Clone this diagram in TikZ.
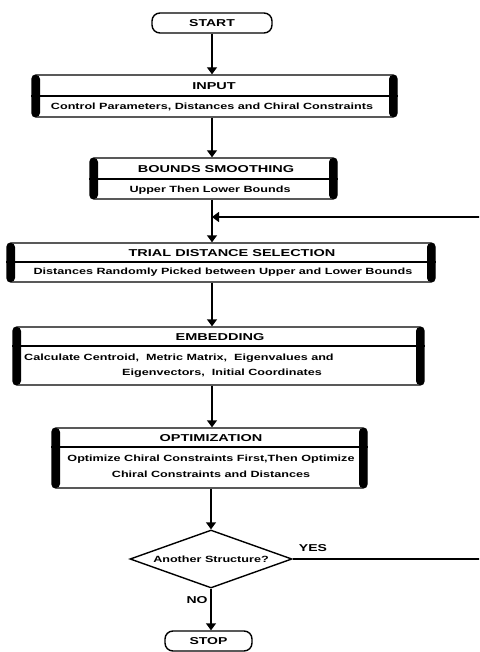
\documentclass[tikz,border=0pt]{standalone}
\usepackage{fontspec}
\usepackage{graphicx}
\setmainfont{Liberation Sans}
\usetikzlibrary{arrows.meta,shapes.geometric,calc}
\newcommand\ttlw[1]{\scalebox{1.45}[1]{#1}}
\newcommand\subw[1]{\scalebox{1.4}[1]{#1}}
\tikzset{
  x=1pt,y=-1pt,
  conn/.style={line width=1.4pt},
  arr/.style={line width=1.4pt,-{Triangle[width=10pt,length=7pt]}},
  pbox/.style={draw,line width=1.4pt,rounded corners=4pt,inner sep=0pt,
    path picture={
      \fill[black] (path picture bounding box.north west) rectangle ([xshift=8pt]path picture bounding box.south west);
      \fill[black] (path picture bounding box.north east) rectangle ([xshift=-8pt]path picture bounding box.south east);}},
  term/.style={draw,line width=1.4pt,rounded corners=8pt,inner sep=0pt,
    font=\bfseries\fontsize{10}{11}\selectfont},
  ttl/.style={inner sep=0pt,font=\bfseries\fontsize{10}{11}\selectfont},
  sub/.style={inner sep=0pt,font=\bfseries\fontsize{9}{10}\selectfont},
  dec/.style={draw,diamond,line width=1.4pt,aspect=2.8,inner sep=0pt,
    minimum width=162pt,minimum height=58pt,font=\bfseries\fontsize{9}{10}\selectfont},
  lbl/.style={inner sep=0pt,font=\bfseries\fontsize{10}{11}\selectfont}
}
\begin{document}
\begin{tikzpicture}
\useasboundingbox (0,0) rectangle (479,652);
\clip (0,0) rectangle (479,652);
\fill[white] (0,0) rectangle (479,652);

% terminals
\node[term,minimum width=120pt,minimum height=20pt] (start) at (212,23) {\subw{START}};
\node[term,minimum width=87pt,minimum height=20pt] (stop) at (208.5,641) {\subw{STOP}};

% process boxes
\node[pbox,minimum width=365pt,minimum height=42pt] (input) at (214.5,96) {};
\draw[conn] (input.west |- 0,96) -- (input.east |- 0,96);
\node[ttl] (inputT) at (214,86) {\ttlw{INPUT}};
\node[sub] (inputS) at (212,107) {\subw{Control Parameters, Distances and Chiral Constraints}};

\node[pbox,minimum width=247pt,minimum height=41pt] (bounds) at (213.5,178.5) {};
\draw[conn] (bounds.west |- 0,179) -- (bounds.east |- 0,179);
\node[ttl] (boundsT) at (216,169) {\ttlw{BOUNDS SMOOTHING}};
\node[sub] (boundsS) at (210,190) {\subw{Upper Then Lower Bounds}};

\node[pbox,minimum width=428pt,minimum height=39pt] (trial) at (221,262.5) {};
\draw[conn] (trial.west |- 0,262) -- (trial.east |- 0,262);
\node[ttl] (trialT) at (232,253) {\ttlw{TRIAL DISTANCE SELECTION}};
\node[sub] (trialS) at (223,272) {\subw{Distances Randomly Picked between Upper and Lower Bounds}};

\node[pbox,minimum width=411pt,minimum height=58pt] (embed) at (218.5,356) {};
\draw[conn] (embed.west |- 0,346) -- (embed.east |- 0,346);
\node[ttl] (embedT) at (220,337) {\ttlw{EMBEDDING}};
\node[sub,anchor=west] (embedS1) at (24,358) {\subw{Calculate Centroid,\ \ Metric Matrix,\ \ Eigenvalues and}};
\node[sub] (embedS2) at (222,373) {\subw{Eigenvectors,\ \ Initial Coordinates}};

\node[pbox,minimum width=315pt,minimum height=60pt] (opt) at (209.5,458) {};
\draw[conn] (opt.west |- 0,447) -- (opt.east |- 0,447);
\node[ttl] (optT) at (211,438) {\ttlw{OPTIMIZATION}};
\node[sub] (optS1) at (211,459) {\subw{Optimize Chiral Constraints First,Then Optimize}};
\node[sub] (optS2) at (211,474) {\subw{Chiral Constraints and Distances}};

% decision
\node[dec] (dec) at (211,559) {\subw{Another Structure?}};
\node[lbl] (yes) at (313,548) {\subw{YES}};
\node[lbl] (no) at (197,600) {\subw{NO}};

% connectors
\draw[arr] (start.south) -- (start.south |- input.north);
\draw[arr] (input.south -| start.south) -- (bounds.north -| start.south);
\draw[arr] (bounds.south -| start.south) -- (trial.north -| start.south);
\draw[arr] (trial.south -| start.south) -- (embed.north -| start.south);
\draw[arr] (embed.south -| start.south) -- (opt.north -| start.south);
\draw[arr] (opt.south -| dec.north) -- (dec.north);
\draw[arr] (dec.south) -- (dec.south |- stop.north);

% feedback loop (vertical part lies beyond the right edge)
\coordinate (r1) at (492,559);
\coordinate (r2) at (492,217);
\path (start.south |- 0,217) coordinate (fb);
\draw[arr] (dec.east) -- (r1) -- (r2) -- (fb);
\end{tikzpicture}
\end{document}
